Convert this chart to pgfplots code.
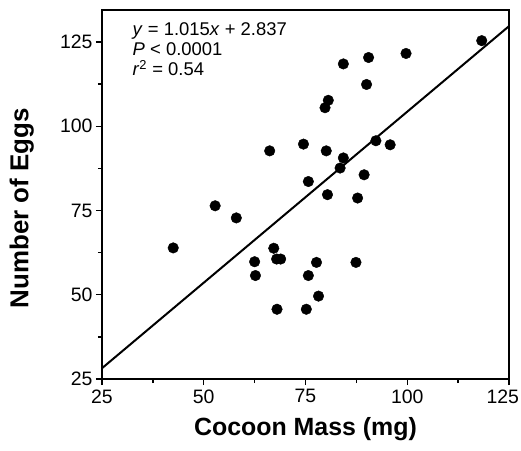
\documentclass[border=0pt]{standalone}
\usepackage{pgfplots}
\pgfplotsset{compat=1.18}
\usepackage{fontspec}
\setmainfont{Liberation Sans}
\begin{document}
\begin{tikzpicture}
\begin{axis}[
  name=ax,
  scale only axis, width=407bp, height=369bp,
  xmin=25, xmax=125, ymin=25, ymax=134.5,
  xtick={25,50,75,100,125}, ytick={25,50,75,100,125},
  xticklabels={25,50,75,100,\makebox[20bp][r]{125}},
  minor tick num=1, tick align=outside, tick pos=left,
  major tick length=6bp, minor tick length=4bp,
  axis line style={line width=1.6bp},
  every tick/.style={line width=1.3bp, black},
  /pgf/number format/assume math mode=true,
  ticklabel style={font=\fontsize{19.5}{22}\selectfont},
  xticklabel style={yshift=-1bp},
  xlabel={\textbf{Cocoon Mass (mg)}},
  ylabel={\textbf{Number of Eggs}},
  xlabel style={font=\fontsize{25}{30}\selectfont, at={(axis description cs:0.5,-0.135)}, anchor=center},
  ylabel style={font=\fontsize{26}{30}\selectfont, at={(axis description cs:-0.197,0.463)}, anchor=center},
  clip=false,
]
\addplot[only marks, mark=*, mark size=5.3bp, black] coordinates {
(118.3,125.4) (99.7,121.6) (90.5,120.4) (84.3,118.5) (90.0,112.4)
(80.6,107.7) (79.8,105.5) (66.2,92.7) (74.5,94.7) (80.1,92.7)
(84.3,90.6) (92.3,95.7) (95.8,94.5) (83.5,87.6) (89.4,85.6)
(75.7,83.6) (80.4,79.7) (87.8,78.7) (52.8,76.4) (58.0,72.8)
(42.5,63.9) (67.2,63.8) (62.5,59.8) (67.9,60.6) (68.9,60.6)
(77.7,59.6) (87.4,59.6) (62.7,55.7) (75.7,55.7) (78.2,49.6)
(68.0,45.7) (75.2,45.7)
};
\addplot[black, line width=2bp] coordinates {(25,28.2) (125,129.7)};
\node[anchor=north west, align=left, font=\fontsize{18.5}{20}\selectfont, inner sep=0pt]
  at (axis cs:32.5,130.8) {\textit{y} = 1.015\textit{x} + 2.837\\ \textit{P} < 0.0001\\ \textit{r}\textsuperscript{2} = 0.54};
\end{axis}
\pgfresetboundingbox
\path ([xshift=-102bp,yshift=-72bp]ax.south west) rectangle ([xshift=12bp,yshift=10bp]ax.north east);
\end{tikzpicture}
\end{document}
